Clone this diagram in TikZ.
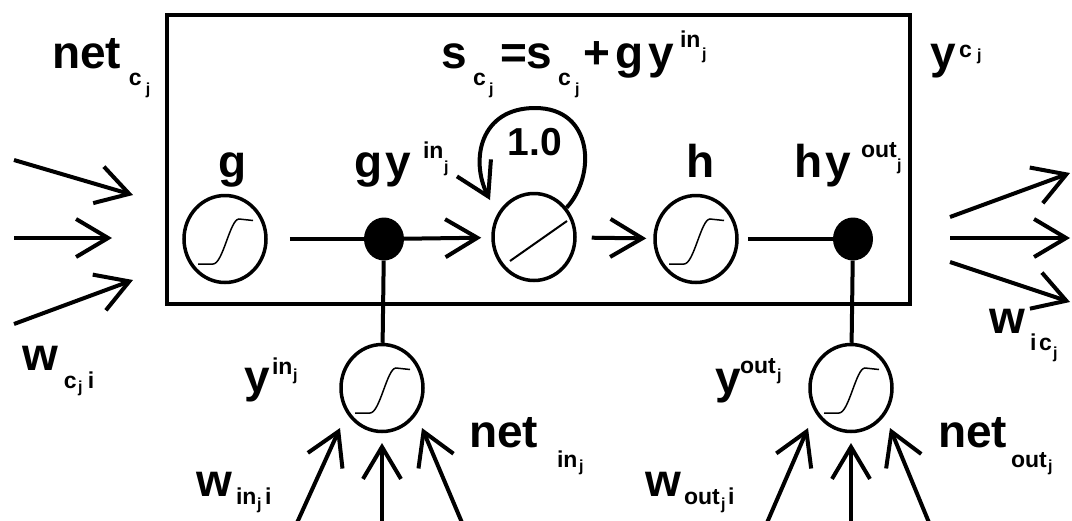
\documentclass[tikz,border=0pt]{standalone}
\usepackage{fontspec}
\setmainfont{Liberation Sans}
\usetikzlibrary{arrows.meta,shapes.geometric}
\newcommand\bigf{\fontsize{46}{48}\selectfont\bfseries}
\newcommand\midf{\fontsize{23}{25}\selectfont\bfseries}
\newcommand\smf{\fontsize{16}{17}\selectfont\bfseries}
\newcommand\putat[3]{\makebox[0pt][l]{\hspace*{#1pt}\raisebox{#2pt}{#3}}}
\begin{document}
\begin{tikzpicture}[x=1pt,y=-1pt,
  lbl/.style={anchor=base west, inner sep=0pt, outer sep=0pt},
  unit/.style={ellipse, draw, line width=3.5pt, minimum width=82pt, minimum height=87pt, inner sep=0pt},
  dotnode/.style={ellipse, fill=black, minimum width=40pt, minimum height=43pt, inner sep=0pt},
  cellbox/.style={draw, line width=4pt, inner sep=0pt, minimum width=743pt, minimum height=289pt},
  wire/.style={line width=4pt},
  arr/.style={line width=4pt, -{Straight Barb[length=32pt,width=38pt]}},
  sigline/.style={line width=1.5pt}]
\useasboundingbox (0,0) rectangle (1072,520);
\fill[white] (0,0) rectangle (1072,520);

% memory cell box
\node[cellbox] (cell) at (538.5,159.5) {};

% units
\node[unit] (g) at (225,239) {};
\node[dotnode] (d1) at (384,239) {};
\node[unit] (lin) at (534,237) {};
\node[unit] (h) at (696,239) {};
\node[dotnode] (d2) at (853,239) {};
\node[unit] (ing) at (382,388) {};
\node[unit] (outg) at (851,388) {};

% sigmoid / linear glyphs
\foreach \n in {g,h,ing,outg}{
  \draw[sigline] ([shift={(-27,25)}]\n.center) -- ++(15,0)
     .. controls +(10,0) and +(-9,0) .. ++(26,-45) -- ++(14,1.5);
}
\draw[line width=2pt] ([shift={(-24,24)}]lin.center) -- ([shift={(33,-16)}]lin.center);

% main row connectors
\draw[wire, shorten <=22pt] (g) -- (d1);
\draw[arr, shorten >=10pt] (d1) -- (lin);
\draw[arr, shorten <=15pt, shorten >=7pt] (lin) -- (h);
\draw[wire, shorten <=9pt] (h) -- (d2);
\draw[wire] (d1) -- (ing);
\draw[wire] (d2) -- (outg);

% self loop
\coordinate (looptip) at (490,200);
\draw[arr] (lin.42) .. controls (596,176) and (594,108) .. (535,108)
   .. controls (480,108) and (470,160) .. (looptip);
\node[anchor=base, inner sep=0pt] (w10) at (535,155) {\fontsize{39}{40}\selectfont\bfseries 1.0};

% input arrows to the cell
\coordinate (li1) at (14,160); \coordinate (lt1) at (133,195);
\coordinate (li2) at (14,238); \coordinate (lt2) at (112,238);
\coordinate (li3) at (14,324); \coordinate (lt3) at (133,280);
\draw[arr] (li1) -- (lt1);
\draw[arr] (li2) -- (lt2);
\draw[arr] (li3) -- (lt3);

% output arrows
\coordinate (ro1) at (950,217); \coordinate (rt1) at (1070,173);
\coordinate (ro2) at (950,238); \coordinate (rt2) at (1070,238);
\coordinate (ro3) at (950,262); \coordinate (rt3) at (1070,302);
\draw[arr] (ro1) -- (rt1);
\draw[arr] (ro2) -- (rt2);
\draw[arr] (ro3) -- (rt3);

% gate input arrows
\coordinate (ia1) at (296,525); \coordinate (it1) at (340,428);
\coordinate (ia2) at (382,525); \coordinate (it2) at (382,443);
\coordinate (ia3) at (463,525); \coordinate (it3) at (422,428);
\draw[arr] (ia1) -- (it1);
\draw[arr] (ia2) -- (it2);
\draw[arr] (ia3) -- (it3);
\coordinate (oa1) at (766,525); \coordinate (ot1) at (808,428);
\coordinate (oa2) at (851,525); \coordinate (ot2) at (851,443);
\coordinate (oa3) at (930,525); \coordinate (ot3) at (890,428);
\draw[arr] (oa1) -- (ot1);
\draw[arr] (oa2) -- (ot2);
\draw[arr] (oa3) -- (ot3);

% labels
\node[lbl] (netc) at (52,68) {\putat{0}{0}{\bigf net}\putat{77}{-17}{\midf c}\putat{94}{-26}{\smf j}\hspace*{100pt}};
\node[lbl] (title) at (441,68) {\putat{0}{0}{\bigf s}\putat{32}{-17}{\midf c}\putat{48}{-26}{\smf j}\putat{59}{0}{\bigf =}\putat{86}{0}{\bigf s}\putat{117}{-17}{\midf c}\putat{134}{-26}{\smf j}\putat{142}{0}{\bigf +}\putat{175}{0}{\bigf g}\putat{208}{0}{\bigf y}\putat{239}{21}{\midf in}\putat{261}{9}{\smf j}\hspace*{268pt}};
\node[lbl] (yc) at (930,68) {\putat{0}{0}{\bigf y}\putat{29}{11}{\midf c}\putat{47}{8}{\smf j}\hspace*{52pt}};
\node[lbl] (glbl) at (218,177) {\bigf g};
\node[lbl] (gylbl) at (354,177) {\putat{0}{0}{\bigf g}\putat{31}{0}{\bigf y}\putat{69}{19}{\midf in}\putat{90}{5}{\smf j}\hspace*{95pt}};
\node[lbl] (hlbl) at (686,177) {\bigf h};
\node[lbl] (hylbl) at (794,177) {\putat{0}{0}{\bigf h}\putat{32}{0}{\bigf y}\putat{67}{20}{\midf out}\putat{103}{7}{\smf j}\hspace*{108pt}};
\node[lbl] (wc) at (22,370) {\putat{0}{0}{\bigf w}\putat{42}{-18}{\midf c}\putat{56}{-22}{\smf j}\putat{66}{-18}{\midf i}\hspace*{73pt}};
\node[lbl] (yin) at (244,392) {\putat{0}{0}{\bigf y}\putat{28}{18}{\midf in}\putat{49}{12}{\smf j}\hspace*{54pt}};
\node[lbl] (netin) at (469,447) {\putat{0}{0}{\bigf net}\putat{88}{-20}{\midf in}\putat{110}{-24}{\smf j}\hspace*{115pt}};
\node[lbl] (win) at (196,496) {\putat{0}{0}{\bigf w}\putat{40}{-8}{\midf in}\putat{61}{-13}{\smf j}\putat{69}{-8}{\midf i}\hspace*{76pt}};
\node[lbl] (yout) at (715,393) {\putat{0}{0}{\bigf y}\putat{25}{20}{\midf out}\putat{62}{13}{\smf j}\hspace*{67pt}};
\node[lbl] (netout) at (938,447) {\putat{0}{0}{\bigf net}\putat{73}{-20}{\midf out}\putat{110}{-24}{\smf j}\hspace*{115pt}};
\node[lbl] (wout) at (645,496) {\putat{0}{0}{\bigf w}\putat{39}{-8}{\midf out}\putat{76}{-13}{\smf j}\putat{83}{-8}{\midf i}\hspace*{90pt}};
\node[lbl] (wic) at (989,333) {\putat{0}{0}{\bigf w}\putat{41}{-17}{\midf i}\putat{50}{-17}{\midf c}\putat{64}{-25}{\smf j}\hspace*{70pt}};
\end{tikzpicture}
\end{document}
